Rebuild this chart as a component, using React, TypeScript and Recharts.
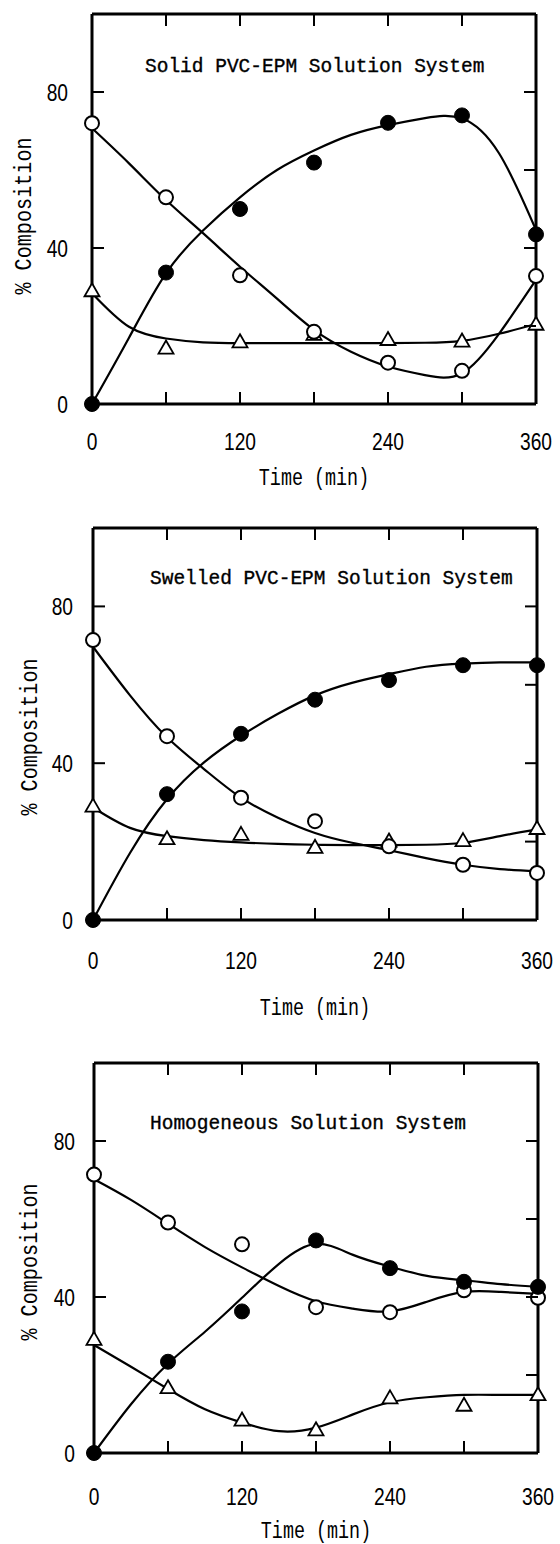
import React from "react";
import { ComposedChart, Line, XAxis, YAxis, Label } from "recharts";

// sample times (min) and the times the fitted curves were read at
const times = [0, 60, 120, 180, 240, 300, 360];
const fitTimes = [0, 30, 60, 90, 120, 150, 180, 210, 240, 270, 300, 330, 360];

const xTicks = [0, 60, 120, 180, 240, 300, 360];
const xLabels = [0, 120, 240, 360];
const topTicks = [60, 120, 180, 240, 300];
const yLeftTicks = [0, 40, 80];
const yRightTicks = [20, 40, 60, 80];

const titles = [
  "Solid PVC-EPM Solution System",
  "Swelled PVC-EPM Solution System",
  "Homogeneous Solution System",
];

// Solid PVC-EPM
const solidOpen = [72, 53, 33, 18.5, 10.6, 8.5, 32.8];
const solidFilled = [0, 33.7, 50, 61.9, 72.1, 74, 43.5];
const solidTri = [29.3, 14.6, 16.2, 18.1, 16.8, 16.4, 20.7];
const solidOpenFit = [70.7, 61.7, 52.3, 43.8, 35.2, 27, 19, 13.4, 9.6, 7.4, 7.9, 18, 31.8];
const solidFilledFit = [0, 17, 33.5, 44.5, 53, 60, 65, 69, 71.5, 73.3, 73.2, 64.3, 44.6];
const solidTriFit = [28.4, 19.8, 16.8, 15.8, 15.6, 15.6, 15.6, 15.6, 15.6, 15.7, 16.2, 18, 20.5];

// Swelled PVC-EPM
const swelledOpen = [71.4, 46.9, 31.2, 25.2, 18.8, 14.1, 12];
const swelledFilled = [0, 32.1, 47.5, 56.2, 61.2, 65, 65];
const swelledTri = [29.3, 21, 22.1, 18.8, 20.4, 20.5, 23.6];
const swelledOpenFit = [69.7, 57.3, 46.6, 38.5, 31.2, 26.1, 22.2, 19.7, 17.8, 15.8, 14.1, 13, 12.4];
const swelledFilledFit = [0, 17.1, 30.8, 40.2, 47, 52.6, 57.3, 60.5, 62.7, 64.6, 65.4, 65.7, 65.7];
const swelledTriFit = [28.7, 23.5, 21.4, 20.4, 19.8, 19.4, 19.2, 19.1, 19.1, 19.2, 19.7, 21.4, 23.1];

// Homogeneous
const homoOpen = [71.4, 59.1, 53.5, 37.4, 36.1, 41.7, 39.8];
const homoFilled = [0, 23.4, 36.3, 54.5, 47.4, 43.9, 42.6];
const homoTri = [29.4, 17, 8.7, 6.2, 14.4, 12.5, 15.2];
const homoOpenFit = [70.2, 64.9, 58.8, 52.8, 47.6, 42.8, 38.9, 37, 36.3, 38.8, 41.3, 41.3, 40.8];
const homoFilledFit = [0, 12.5, 22.9, 31.1, 39.8, 48.5, 53.6, 50.8, 47.8, 45.4, 44.3, 43.3, 42.6];
const homoTriFit = [27.7, 22.1, 16.4, 11.2, 7.8, 5.6, 6.5, 9.9, 13, 14.3, 14.9, 14.9, 14.9];

const rows = (ts: number[], vs: number[]) => ts.map((t, i) => ({ t, v: vs[i] }));

const digitFont = "'Liberation Sans', Arial, sans-serif";
const monoFont = "'Liberation Mono', 'DejaVu Sans Mono', monospace";

// plot boxes in page pixels + text offsets
const layouts = [
  { top: 14, bottom: 404, left: 92, right: 536, tickDy: 37, xTitleDy: 73, yTitleDx: 70, yTitleDy: 7, yTickDx: 24, titleDx: 53, titleDy: 51 },
  { top: 528, bottom: 920, left: 93, right: 537, tickDy: 40, xTitleDy: 87, yTitleDx: 65, yTitleDy: 13, yTickDx: 20, titleDx: 57, titleDy: 49 },
  { top: 1063, bottom: 1453, left: 94, right: 538, tickDy: 43, xTitleDy: 77, yTitleDx: 66, yTitleDy: 4, yTickDx: 19, titleDx: 56, titleDy: 59 },
];

const OpenDot = (p: any) => (
  <circle key={p.index} cx={p.cx} cy={p.cy} r={7} fill="#fff" stroke="#000" strokeWidth={2} />
);
const FilledDot = (p: any) => (
  <circle key={p.index} cx={p.cx} cy={p.cy} r={7.5} fill="#000" stroke="#000" strokeWidth={1} />
);
const TriDot = (p: any) => (
  <path
    key={p.index}
    d={`M${p.cx},${p.cy - 6.5} L${p.cx + 7.5},${p.cy + 6.5} L${p.cx - 7.5},${p.cy + 6.5} Z`}
    fill="#fff"
    stroke="#000"
    strokeWidth={1.8}
  />
);

interface PanelProps {
  title: string;
  open: number[];
  filled: number[];
  tri: number[];
  openFit: number[];
  filledFit: number[];
  triFit: number[];
  lay: (typeof layouts)[number];
}

function Panel({ title, open, filled, tri, openFit, filledFit, triFit, lay }: PanelProps) {
  const H = 525;
  const plotH = lay.bottom - lay.top;
  const xAxisH = 100;
  const mBottom = H - xAxisH - (plotH + 14);
  const yW = 60;
  const rW = 10;

  const bottomTick = (p: any) => {
    const v = p.payload.value;
    return (
      <g>
        {v > 0 && v < 360 && <line x1={p.x} x2={p.x} y1={p.y} y2={p.y - 12} stroke="#000" strokeWidth={2} />}
        {xLabels.includes(v) && (
          <text
            transform={`translate(${p.x},${p.y + lay.tickDy}) scale(0.8,1)`}
            textAnchor="middle"
            dy="0.36em"
            fontFamily={digitFont}
            fontSize={24}
            fill="#000"
          >
            {v}
          </text>
        )}
      </g>
    );
  };
  const topTick = (p: any) => (
    <line x1={p.x} x2={p.x} y1={p.y} y2={p.y + 12} stroke="#000" strokeWidth={2} />
  );
  const leftTick = (p: any) => {
    const v = p.payload.value;
    return (
      <g>
        {v > 0 && <line x1={p.x} x2={p.x + 12} y1={p.y} y2={p.y} stroke="#000" strokeWidth={2} />}
        <text
          transform={`translate(${p.x - lay.yTickDx},${p.y}) scale(0.8,1)`}
          textAnchor="end"
          dy="0.36em"
          fontFamily={digitFont}
          fontSize={24}
          fill="#000"
        >
          {v}
        </text>
      </g>
    );
  };
  const rightTick = (p: any) => (
    <line x1={p.x} x2={p.x - 12} y1={p.y} y2={p.y} stroke="#000" strokeWidth={2} />
  );

  return (
    <div style={{ position: "absolute", left: 0, top: lay.top - 14, width: 560, height: H }}>
      <ComposedChart
        width={560}
        height={H}
        margin={{ top: 12, right: 560 - lay.right - rW, bottom: mBottom, left: lay.left - yW }}
      >
        <XAxis
          dataKey="t"
          type="number"
          domain={[0, 360]}
          ticks={xTicks}
          interval={0}
          height={xAxisH}
          tickSize={0}
          tickMargin={0}
          tickLine={false}
          axisLine={{ stroke: "#000", strokeWidth: 3 }}
          tick={bottomTick}
        >
          <Label
            content={(lp: any) => {
              const vb = lp.viewBox;
              return (
                <text
                  transform={`translate(${vb.x + vb.width / 2},${vb.y + lay.xTitleDy}) scale(0.8,1)`}
                  textAnchor="middle"
                  dy="0.36em"
                  fontFamily={monoFont}
                  fontSize={23}
                  fill="#000"
                >
                  Time (min)
                </text>
              );
            }}
          />
        </XAxis>
        <XAxis
          xAxisId="top"
          orientation="top"
          dataKey="t"
          type="number"
          domain={[0, 360]}
          ticks={topTicks}
          interval={0}
          height={2}
          tickSize={0}
          tickMargin={0}
          tickLine={false}
          axisLine={{ stroke: "#000", strokeWidth: 3 }}
          tick={topTick}
        >
          <Label
            content={(lp: any) => {
              const vb = lp.viewBox;
              return (
                <text
                  x={vb.x + lay.titleDx}
                  y={vb.y + vb.height + lay.titleDy}
                  dy="0.36em"
                  fontFamily={monoFont}
                  fontSize={19.5}
                  fill="#000"
                  stroke="#000"
                  strokeWidth={0.35}
                >
                  {title}
                </text>
              );
            }}
          />
        </XAxis>
        <YAxis
          type="number"
          domain={[0, 100]}
          ticks={yLeftTicks}
          interval={0}
          width={yW}
          tickSize={0}
          tickMargin={0}
          tickLine={false}
          axisLine={{ stroke: "#000", strokeWidth: 3 }}
          tick={leftTick}
        >
          <Label
            content={(lp: any) => {
              const vb = lp.viewBox;
              const cx = vb.x + vb.width - lay.yTitleDx;
              const cy = vb.y + vb.height / 2 + lay.yTitleDy;
              return (
                <text
                  transform={`translate(${cx},${cy}) rotate(-90) scale(0.84,1)`}
                  textAnchor="middle"
                  dy="0.36em"
                  fontFamily={monoFont}
                  fontSize={24}
                  fill="#000"
                >
                  % Composition
                </text>
              );
            }}
          />
        </YAxis>
        <YAxis
          yAxisId="right"
          orientation="right"
          type="number"
          domain={[0, 100]}
          ticks={yRightTicks}
          interval={0}
          width={rW}
          tickSize={0}
          tickMargin={0}
          tickLine={false}
          axisLine={{ stroke: "#000", strokeWidth: 3 }}
          tick={rightTick}
        />

        {/* fitted curves */}
        <Line data={rows(fitTimes, openFit)} dataKey="v" type="natural" stroke="#000" strokeWidth={2.2} dot={false} activeDot={false} isAnimationActive={false} />
        <Line data={rows(fitTimes, filledFit)} dataKey="v" type="natural" stroke="#000" strokeWidth={2.2} dot={false} activeDot={false} isAnimationActive={false} />
        <Line data={rows(fitTimes, triFit)} dataKey="v" xAxisId="top" yAxisId="right" type="natural" stroke="#000" strokeWidth={2.2} dot={false} activeDot={false} isAnimationActive={false} />

        {/* measured points */}
        <Line data={rows(times, tri)} dataKey="v" xAxisId="top" yAxisId="right" stroke="none" dot={TriDot} activeDot={false} isAnimationActive={false} />
        <Line data={rows(times, open)} dataKey="v" stroke="none" dot={OpenDot} activeDot={false} isAnimationActive={false} />
        <Line data={rows(times, filled)} dataKey="v" stroke="none" dot={FilledDot} activeDot={false} isAnimationActive={false} />
      </ComposedChart>
    </div>
  );
}

export default function App() {
  return (
    <div style={{ position: "absolute", left: 0, top: 0, width: 560, height: 1544, overflow: "hidden", background: "#fff" }}>
      <Panel title={titles[0]} open={solidOpen} filled={solidFilled} tri={solidTri} openFit={solidOpenFit} filledFit={solidFilledFit} triFit={solidTriFit} lay={layouts[0]} />
      <Panel title={titles[1]} open={swelledOpen} filled={swelledFilled} tri={swelledTri} openFit={swelledOpenFit} filledFit={swelledFilledFit} triFit={swelledTriFit} lay={layouts[1]} />
      <Panel title={titles[2]} open={homoOpen} filled={homoFilled} tri={homoTri} openFit={homoOpenFit} filledFit={homoFilledFit} triFit={homoTriFit} lay={layouts[2]} />
    </div>
  );
}
